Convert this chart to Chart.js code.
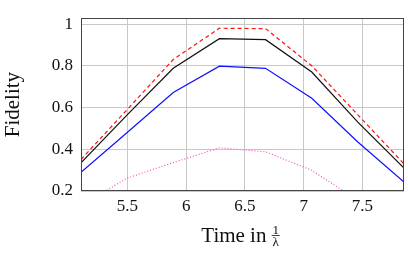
<!DOCTYPE html>
<html>
<head>
<meta charset="utf-8">
<script src="https://cdn.jsdelivr.net/npm/chart.js@4"></script>
<style>
    html, body { margin: 0; padding: 0; background: #fff; }
    #fidelityChart { display: block; }
</style>
</head>
<body>
<canvas id="fidelityChart" width="408" height="272"></canvas>
<script>
// time points (multiples of pi/8)
const timeValues = [5.105, 5.498, 5.890, 6.283, 6.676, 7.069, 7.461, 7.854];

const redValues = [0.351, 0.590, 0.830, 0.980, 0.978, 0.800, 0.565, 0.330];
const blackValues = [0.335, 0.565, 0.788, 0.930, 0.925, 0.770, 0.530, 0.310];
const blueValues = [0.290, 0.480, 0.672, 0.798, 0.788, 0.644, 0.435, 0.243];
const pinkValues = [0.130, 0.262, 0.336, 0.407, 0.388, 0.299, 0.156, 0.070];

const xTicks = [5.5, 6, 6.5, 7, 7.5];
const yTicks = [0.2, 0.4, 0.6, 0.8, 1];

const serif = "'Liberation Serif', 'DejaVu Serif', serif";

function toPoints(values) {
    return values.map((v, i) => ({ x: timeValues[i], y: v }));
}

// frame + axis titles (Time in 1/lambda needs a small fraction)
const titlesPlugin = {
    id: 'titles',
    afterDraw(chart) {
        const ctx = chart.ctx;
        const area = chart.chartArea;
        ctx.save();
        ctx.strokeStyle = '#444';
        ctx.lineWidth = 1;
        ctx.strokeRect(Math.round(area.left) + 0.5, Math.round(area.top) + 0.5,
            Math.round(area.right - area.left) - 1, Math.round(area.bottom - area.top) - 1);

        ctx.fillStyle = '#111';
        ctx.font = '21px ' + serif;
        ctx.textBaseline = 'alphabetic';

        // y title
        ctx.save();
        ctx.translate(19, (area.top + area.bottom) / 2);
        ctx.rotate(-Math.PI / 2);
        ctx.textAlign = 'center';
        ctx.fillText('Fidelity', 0, 0);
        ctx.restore();

        // x title
        const label = 'Time in ';
        const w = ctx.measureText(label).width;
        const fracW = 8;
        const start = (area.left + area.right) / 2 - (w + fracW) / 2 - 2;
        ctx.textAlign = 'left';
        ctx.fillText(label, start, 241.5);

        const fx = start + w + fracW / 2;
        ctx.font = '13px ' + serif;
        ctx.textAlign = 'center';
        ctx.fillText('1', fx, 234);
        ctx.fillText('λ', fx, 246);
        ctx.beginPath();
        ctx.moveTo(fx - 4, 235.5);
        ctx.lineTo(fx + 4, 235.5);
        ctx.lineWidth = 0.8;
        ctx.strokeStyle = '#111';
        ctx.stroke();
        ctx.restore();
    }
};

function createFidelityChart() {
    const ctx = document.getElementById('fidelityChart').getContext('2d');
    new Chart(ctx, {
        type: 'line',
        data: {
            datasets: [{
                label: 'pink',
                data: toPoints(pinkValues),
                borderColor: '#f050c8',
                borderWidth: 1.2,
                borderDash: [1, 2]
            }, {
                label: 'blue',
                data: toPoints(blueValues),
                borderColor: '#1010ff',
                borderWidth: 1.2
            }, {
                label: 'black',
                data: toPoints(blackValues),
                borderColor: '#111',
                borderWidth: 1.2
            }, {
                label: 'red',
                data: toPoints(redValues),
                borderColor: '#ff1010',
                borderWidth: 1.2,
                borderDash: [4, 3]
            }]
        },
        options: {
            responsive: false,
            animation: false,
            devicePixelRatio: 1,
            elements: {
                point: { radius: 0 },
                line: { tension: 0 }
            },
            layout: {
                padding: { top: 6, right: 4, left: 0, bottom: 0 }
            },
            plugins: {
                legend: { display: false },
                tooltip: { enabled: false }
            },
            scales: {
                x: {
                    type: 'linear',
                    min: timeValues[0],
                    max: timeValues[timeValues.length - 1],
                    afterBuildTicks: (scale) => { scale.ticks = xTicks.map(v => ({ value: v })); },
                    afterFit: (scale) => { scale.height = 81; },
                    border: { display: false },
                    grid: { color: '#c8c8c8', lineWidth: 1, drawTicks: false },
                    ticks: {
                        padding: 5,
                        color: '#111',
                        font: { family: serif, size: 17 },
                        maxRotation: 0,
                        callback: (v) => String(v)
                    }
                },
                y: {
                    min: 0.2,
                    max: 1.028,
                    afterBuildTicks: (scale) => { scale.ticks = yTicks.map(v => ({ value: v })); },
                    afterFit: (scale) => { scale.width = 81; },
                    border: { display: false },
                    grid: { color: '#c8c8c8', lineWidth: 1, drawTicks: false },
                    ticks: {
                        padding: 8,
                        color: '#111',
                        font: { family: serif, size: 17 },
                        callback: (v) => String(v)
                    }
                }
            }
        },
        plugins: [titlesPlugin]
    });
}

document.addEventListener('DOMContentLoaded', createFidelityChart);
</script>
</body>
</html>
